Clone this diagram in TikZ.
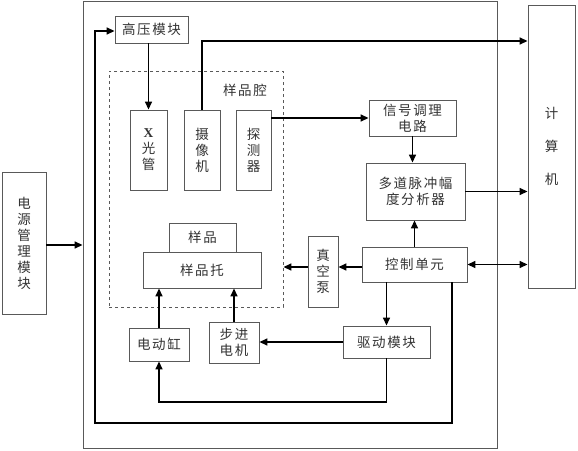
\documentclass[tikz,border=0pt]{standalone}
\usepackage{fontspec}
\newfontfamily\cjk[LetterSpace=12]{Noto Sans CJK SC}
\newfontfamily\serx{Liberation Serif}
\usetikzlibrary{arrows.meta}
\begin{document}
\begin{tikzpicture}[x=1pt,y=-1pt,
  box/.style={draw=black!65, line width=0.9pt, fill=white, inner sep=0pt, text=black!80,
    font=\cjk\fontsize{13.5}{16}\selectfont, align=center},
  conn/.style={line width=1.5pt, -{Triangle[length=8pt,width=7pt]}},
  lbl/.style={inner sep=0pt, text=black!80, font=\cjk\fontsize{13.5}{16}\selectfont}]
\useasboundingbox (0,0) rectangle (578,450);
% frames
\node[box, minimum width=414, minimum height=447] (outer) at (290,224.5) {};
\node[draw=black!65, dashed, line width=0.9pt, minimum width=174, minimum height=236, inner sep=0pt] (cav) at (196,189) {};
\node[lbl] (cavl) at (245,90) {样品腔};
% boxes
\node[box, minimum width=47, minimum height=283, font=\cjk\fontsize{13.5}{33}\selectfont] (comp) at (551.5,146.5) {计\\算\\机};
\node[box, minimum width=44, minimum height=142] (power) at (24,243) {电\\源\\管\\理\\模\\块};
\node[box, minimum width=73, minimum height=27] (hv) at (151.5,29.5) {高压模块};
\node[box, minimum width=37, minimum height=80] (xray) at (148.5,150) {{\serx\bfseries X}\\光\\管};
\node[box, minimum width=36, minimum height=80] (cam) at (202,150) {摄\\像\\机};
\node[box, minimum width=35, minimum height=80] (det) at (253.5,150) {探\\测\\器};
\node[box, minimum width=87, minimum height=36] (sig) at (412.5,118) {信号调理\\电路};
\node[box, minimum width=99, minimum height=57] (mca) at (415.5,191.5) {多道脉冲幅\\度分析器};
\node[box, minimum width=105, minimum height=35] (ctrl) at (414.5,264.5) {控制单元};
\node[box, minimum width=30, minimum height=71] (pump) at (323,271.5) {真\\空\\泵};
\node[box, minimum width=87, minimum height=32] (drive) at (386.5,342) {驱动模块};
\node[box, minimum width=50, minimum height=41] (step) at (234,342.5) {步进\\电机};
\node[box, minimum width=60, minimum height=33] (cyl) at (159,344.5) {电动缸};
\node[box, minimum width=67, minimum height=29] (sample) at (202.5,237.5) {样品};
\node[box, minimum width=118, minimum height=36] (holder) at (202,270) {样品托};
% connectors
\draw[conn] (xray.north |- hv.south) -- (xray.north);
\coordinate (camup) at (202,41);
\draw[conn] (cam.north) -- (camup) -- (camup -| comp.west);
\draw[conn] (det.east |- sig.west) -- (sig.west);
\draw[conn] (sig.south) -- (sig.south |- mca.north);
\draw[conn] (mca.east) -- (mca.east -| comp.west);
\draw[conn] (ctrl.north) -- (mca.south -| ctrl.north);
\draw[line width=1.5pt, {Triangle[length=8pt,width=7pt]}-{Triangle[length=8pt,width=7pt]}] (ctrl.east) -- (ctrl.east -| comp.west);
\draw[conn] (ctrl.west |- 0,267) -- (pump.east |- 0,267);
\draw[conn] (pump.west |- 0,267) -- (cav.east |- 0,267);
\draw[conn] (ctrl.south -| drive.north) -- (drive.north);
\draw[conn] (drive.west) -- (drive.west -| step.east);
\draw[conn] (drive.south) -- (drive.south |- 0,402) -| (cyl.south);
\draw[conn] (cyl.north) -- (cyl.north |- holder.south);
\draw[conn] (step.north) -- (step.north |- holder.south);
\draw[conn] (power.east |- 0,245) -- (outer.west |- 0,245);
\draw[conn] (ctrl.south -| 452,0) -- (452,423) -- (95,423) -- (95,31) -- (hv.west |- 0,31);
\end{tikzpicture}
\end{document}
